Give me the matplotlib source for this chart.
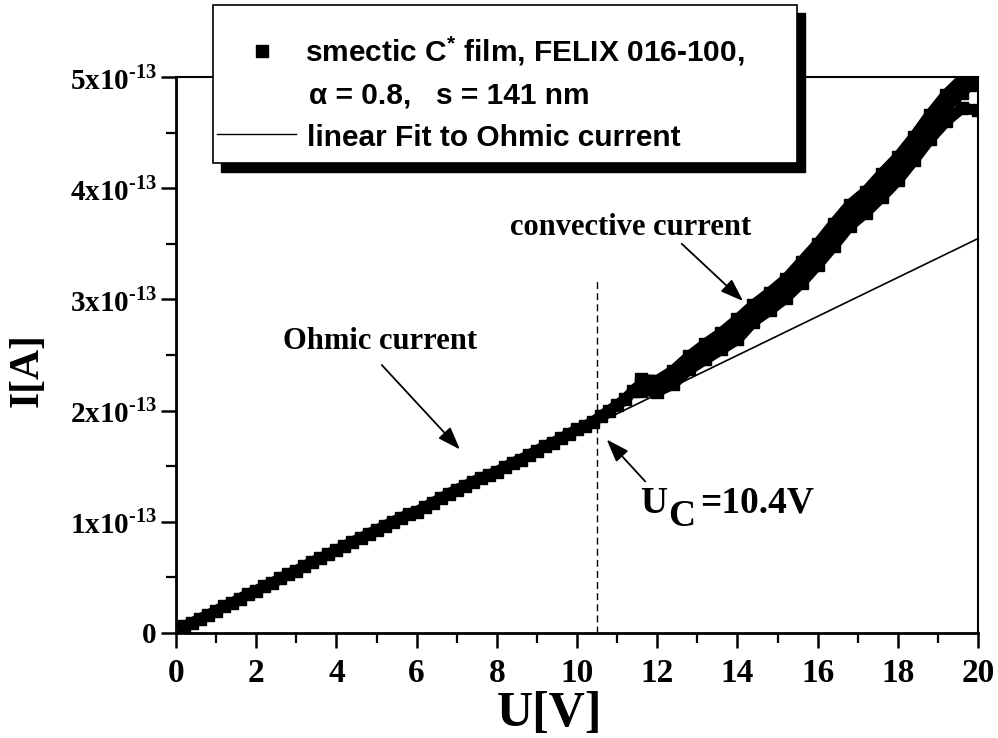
"""I-U curve of a smectic C* film: Ohmic and convective current."""

import matplotlib

matplotlib.use("Agg")

import matplotlib.pyplot as plt
from matplotlib.lines import Line2D
from matplotlib.patches import Rectangle
from matplotlib.ticker import FuncFormatter, MultipleLocator


# measured current, in units of 1e-13 A
voltage = [
    0.2, 0.4, 0.6, 0.8, 1.0, 1.2, 1.4, 1.6, 1.8, 2.0,
    2.2, 2.4, 2.6, 2.8, 3.0, 3.2, 3.4, 3.6, 3.8, 4.0,
    4.2, 4.4, 4.6, 4.8, 5.0, 5.2, 5.4, 5.6, 5.8, 6.0,
    6.2, 6.4, 6.6, 6.8, 7.0, 7.2, 7.4, 7.6, 7.8, 8.0,
    8.2, 8.4, 8.6, 8.8, 9.0, 9.2, 9.4, 9.6, 9.8, 10.0,
    10.2, 10.4, 10.6, 10.8, 11.0, 11.2, 11.4, 11.6, 11.8, 12.0,
    12.2, 12.4, 12.6, 12.8, 13.0, 13.2, 13.4, 13.6, 13.8, 14.0,
    14.2, 14.4, 14.6, 14.8, 15.0, 15.2, 15.4, 15.6, 15.8, 16.0,
    16.2, 16.4, 16.6, 16.8, 17.0, 17.2, 17.4, 17.6, 17.8, 18.0,
    18.2, 18.4, 18.6, 18.8, 19.0, 19.2, 19.4, 19.6, 19.8, 20.0,
]
current = [
    0.06, 0.09, 0.13, 0.16, 0.20, 0.24, 0.27, 0.31, 0.35, 0.38,
    0.42, 0.45, 0.49, 0.53, 0.56, 0.60, 0.64, 0.67, 0.71, 0.745,
    0.78, 0.82, 0.85, 0.89, 0.925, 0.96, 1.00, 1.03, 1.07, 1.09,
    1.13, 1.17, 1.21, 1.25, 1.29, 1.32, 1.36, 1.39, 1.42, 1.45,
    1.49, 1.53, 1.56, 1.60, 1.64, 1.68, 1.71, 1.75, 1.79, 1.83,
    1.86, 1.90, 1.95, 2.00, 2.05, 2.10, 2.18, 2.24, 2.23, 2.22,
    2.26, 2.30, 2.37, 2.44, 2.47, 2.53, 2.57, 2.63, 2.66, 2.74,
    2.84, 2.88, 2.92, 2.98, 3.05, 3.10, 3.16, 3.25, 3.34, 3.41,
    3.48, 3.58, 3.68, 3.76, 3.82, 3.88, 3.96, 4.03, 4.10, 4.18,
    4.28, 4.36, 4.44, 4.55, 4.66, 4.72, 4.80, 4.86, 4.93, 4.98,
]

# upper and lower edge of the noisy convective part
spread_voltage = [
    11.6, 12.0, 12.4, 12.8, 13.2, 13.6, 14.0, 14.4, 14.8, 15.2, 15.6,
    16.0, 16.4, 16.8, 17.2, 17.6, 18.0, 18.4, 18.8, 19.2, 19.6, 20.0,
]
spread_upper = [
    2.28, 2.27, 2.36, 2.49, 2.60, 2.70, 2.82, 2.95, 3.06, 3.18, 3.34,
    3.50, 3.68, 3.85, 3.97, 4.13, 4.28, 4.46, 4.66, 4.84, 4.98, 5.05,
]
spread_lower = [
    2.18, 2.17, 2.24, 2.37, 2.46, 2.55, 2.64, 2.80, 2.90, 3.01, 3.15,
    3.31, 3.48, 3.66, 3.78, 3.92, 4.07, 4.25, 4.44, 4.60, 4.72, 4.70,
]

fit_voltage = [0.0, 20.0]
fit_current = [0.047, 3.547]

voltage_ticks = [0, 2, 4, 6, 8, 10, 12, 14, 16, 18, 20]
current_ticks = [0, 1, 2, 3, 4, 5]

critical_voltage = 10.5
critical_line_top = 3.18

SCALE = 1e-13
SERIF = "Liberation Serif"
SANS = "Liberation Sans"


def current_label(value, position):
    """Format the current axis as n x 10^-13."""

    n = round(value / SCALE)

    if n == 0:
        return "0"

    return f"{n}x10$^{{\\text{{-13}}}}$"


def fig_x(px):
    return px / 998


def fig_y(py):
    return 1 - py / 738


def draw_legend_box(figure):
    """Box with shadow, drawn on top of the frame like the original."""

    shadow = Rectangle(
        (fig_x(221), fig_y(172)),
        fig_x(805) - fig_x(221),
        fig_y(13) - fig_y(172),
        transform=figure.transFigure,
        facecolor="black",
        edgecolor="black",
        zorder=5,
    )
    box = Rectangle(
        (fig_x(213), fig_y(163)),
        fig_x(797) - fig_x(213),
        fig_y(5) - fig_y(163),
        transform=figure.transFigure,
        facecolor="white",
        edgecolor="black",
        linewidth=1.2,
        zorder=6,
    )
    figure.add_artist(shadow)
    figure.add_artist(box)

    figure.add_artist(
        Line2D(
            [fig_x(262)],
            [fig_y(51)],
            marker="s",
            markersize=9,
            color="black",
            linestyle="none",
            transform=figure.transFigure,
            zorder=7,
        )
    )
    figure.add_artist(
        Line2D(
            [fig_x(217), fig_x(296)],
            [fig_y(134), fig_y(134)],
            color="black",
            linewidth=1.0,
            transform=figure.transFigure,
            zorder=7,
        )
    )

    text_style = dict(
        family=SANS,
        weight="bold",
        fontsize=21.5,
        va="baseline",
        ha="left",
        zorder=7,
    )
    figure.text(
        fig_x(305),
        fig_y(61),
        "smectic C$^{\\mathdefault{*}}$ film, FELIX 016-100,",
        **text_style,
    )
    figure.text(
        fig_x(309),
        fig_y(104),
        "\u03b1 = 0.8,   s = 141 nm",
        **text_style,
    )
    figure.text(
        fig_x(307),
        fig_y(146),
        "linear Fit to Ohmic current",
        **text_style,
    )


def main():
    plt.rcParams.update(
        {
            "font.family": SERIF,
            "font.weight": "bold",
            "mathtext.fontset": "custom",
            "mathtext.rm": "Liberation Serif:bold",
        }
    )

    figure = plt.figure(figsize=(9.98, 7.38), dpi=100)
    axis = figure.add_axes([0.1764, 0.1423, 0.8036, 0.7534])

    axis.plot(
        fit_voltage,
        [value * SCALE for value in fit_current],
        color="black",
        linewidth=1.2,
        zorder=2,
    )

    band_style = dict(
        marker="s",
        markersize=8.5,
        linestyle="-",
        linewidth=8,
        solid_joinstyle="round",
        color="black",
        zorder=3,
    )
    axis.plot(
        voltage,
        [value * SCALE for value in current],
        **band_style,
    )
    axis.plot(
        spread_voltage,
        [value * SCALE for value in spread_upper],
        **band_style,
    )
    axis.plot(
        spread_voltage,
        [value * SCALE for value in spread_lower],
        **band_style,
    )

    axis.vlines(
        critical_voltage,
        0,
        critical_line_top * SCALE,
        colors="black",
        linestyles=(0, (5, 3)),
        linewidth=1.0,
        zorder=2,
    )

    axis.set_xlim(0, 20)
    axis.set_ylim(0, 5 * SCALE)

    axis.set_xticks(voltage_ticks)
    axis.xaxis.set_minor_locator(MultipleLocator(1))
    axis.set_yticks([value * SCALE for value in current_ticks])
    axis.yaxis.set_minor_locator(MultipleLocator(0.5 * SCALE))
    axis.yaxis.set_major_formatter(FuncFormatter(current_label))

    axis.tick_params(
        which="major",
        direction="out",
        length=11,
        width=1.8,
        labelsize=21,
        pad=3,
    )
    axis.tick_params(
        which="minor",
        direction="out",
        length=7,
        width=1.6,
    )
    axis.tick_params(axis="x", which="major", labelsize=24, pad=7)

    for side in ["left", "bottom"]:
        axis.spines[side].set_linewidth(2.0)

    for side in ["top", "right"]:
        axis.spines[side].set_linewidth(1.5)

    axis.set_xlabel("U[V]", fontsize=36, fontweight="bold", va="center")
    axis.xaxis.set_label_coords(0.466, -0.146)
    axis.set_ylabel("I[A]", fontsize=30, fontweight="bold", va="center")
    axis.yaxis.set_label_coords(-0.1845, 0.473)

    arrow_style = dict(
        arrowstyle="-|>,head_length=0.7,head_width=0.25",
        color="black",
        linewidth=1.3,
        mutation_scale=20,
        shrinkA=0,
        shrinkB=0,
    )

    axis.annotate(
        "",
        xy=(7.08, 1.65 * SCALE),
        xytext=(5.13, 2.41 * SCALE),
        arrowprops=arrow_style,
    )
    axis.annotate(
        "",
        xy=(14.14, 2.985 * SCALE),
        xytext=(12.61, 3.50 * SCALE),
        arrowprops=arrow_style,
    )
    axis.annotate(
        "",
        xy=(10.74, 1.74 * SCALE),
        xytext=(11.70, 1.363 * SCALE),
        arrowprops=arrow_style,
    )

    note_style = dict(fontsize=22, weight="bold", va="baseline", ha="left")
    axis.text(2.67, 2.55 * SCALE, "Ohmic current", **note_style)
    axis.text(8.33, 3.58 * SCALE, "convective current", **note_style)

    uc_style = dict(fontsize=27, weight="bold", ha="left", va="baseline")
    axis.text(11.57, 1.081 * SCALE, "U", **uc_style)
    axis.text(12.27, 0.96 * SCALE, "C", **uc_style)
    axis.text(13.08, 1.081 * SCALE, "=10.4V", **uc_style)

    draw_legend_box(figure)

    figure.savefig("out.png", dpi=100)
    plt.close(figure)


if __name__ == "__main__":
    main()
